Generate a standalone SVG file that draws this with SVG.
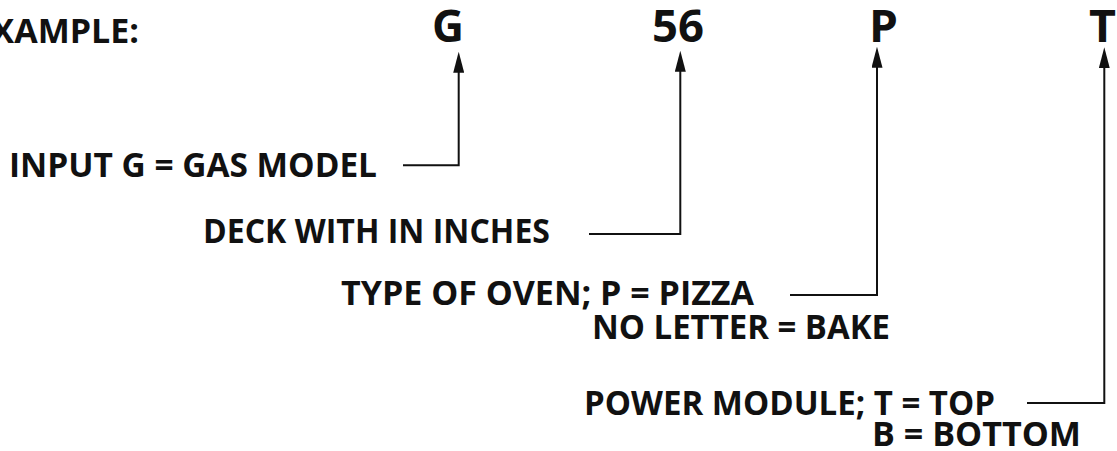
<svg xmlns="http://www.w3.org/2000/svg" width="1117" height="451" viewBox="0 0 1117 451">
  <style>
    text { font-family: "Open Sans", "Liberation Sans", sans-serif; font-weight: 700; fill: #111; }
    .code { font-size: 44px; }
    .label { font-size: 34px; }
    .lead { fill: none; stroke: #111; stroke-width: 2; marker-end: url(#arrow); }
  </style>
  <defs>
    <!-- solid arrowhead; the tip sits 10px beyond the path end -->
    <marker id="arrow" viewBox="0 0 21 11" refX="11" refY="5.5" markerWidth="21" markerHeight="11" markerUnits="userSpaceOnUse" orient="auto">
      <path d="M0,0 L21,5.5 L0,11 Z" fill="#111"/>
    </marker>
  </defs>
  <rect width="1117" height="451" fill="#fff"/>

  <!-- model code characters -->
  <g id="title"><text class="label" x="139" y="43" text-anchor="end">EXAMPLE:</text></g>
  <g id="code-g"><text class="code" x="432" y="42" textLength="32" lengthAdjust="spacingAndGlyphs">G</text></g>
  <g id="code-56"><text class="code" x="652" y="42" textLength="52" lengthAdjust="spacingAndGlyphs">56</text></g>
  <g id="code-p"><text class="code" x="869" y="42" textLength="29" lengthAdjust="spacingAndGlyphs">P</text></g>
  <g id="code-t"><text class="code" x="1089" y="42" textLength="27" lengthAdjust="spacingAndGlyphs">T</text></g>

  <!-- explanations -->
  <g id="note-input"><text class="label" x="9" y="177" textLength="368" lengthAdjust="spacingAndGlyphs">INPUT G = GAS MODEL</text></g>
  <g id="note-deck"><text class="label" x="203" y="243" textLength="347" lengthAdjust="spacingAndGlyphs">DECK WITH IN INCHES</text></g>
  <g id="note-type">
    <text class="label" x="341" y="305" textLength="413" lengthAdjust="spacingAndGlyphs">TYPE OF OVEN; P = PIZZA</text>
    <text class="label" x="592" y="339" textLength="298" lengthAdjust="spacingAndGlyphs">NO LETTER = BAKE</text>
  </g>
  <g id="note-power">
    <text class="label" x="584" y="415" textLength="411" lengthAdjust="spacingAndGlyphs">POWER MODULE; T = TOP</text>
    <text class="label" x="872" y="446" textLength="209" lengthAdjust="spacingAndGlyphs">B = BOTTOM</text>
  </g>

  <!-- leader lines -->
  <g id="connectors">
    <path class="lead" d="M403,165.3 H458.7 V61.7"/>
    <path class="lead" d="M589,234 H680.3 V60.7"/>
    <path class="lead" d="M790,295 H877 V56.7"/>
    <path class="lead" d="M1027,403 H1104.3 V57.3"/>
  </g>
</svg>
